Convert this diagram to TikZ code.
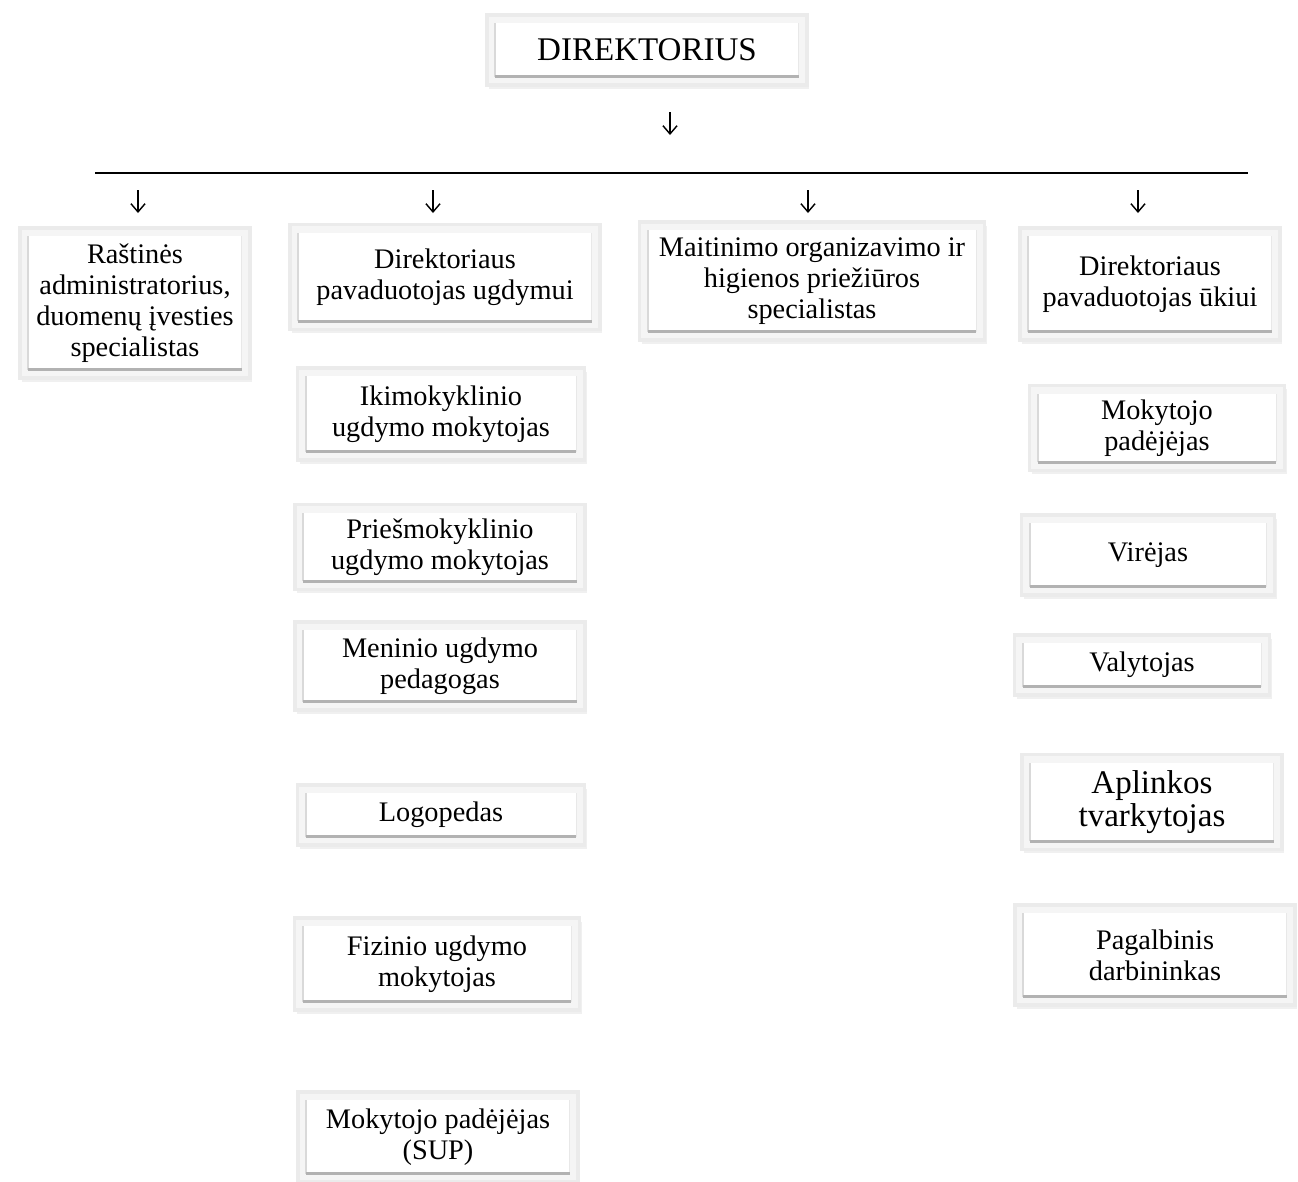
\documentclass[tikz,border=0pt]{standalone}
\usepackage{fontspec}
\setmainfont{Liberation Serif}
\usetikzlibrary{shadows, arrows.meta}
\newcommand{\bodyfont}{\fontsize{12}{13.1}\selectfont}
\newcommand{\bigfont}{\fontsize{14}{13.8}\selectfont}
\tikzstyle{post} = [rectangle, draw=gray!16, line width=1.5pt, fill=gray!8, align=center, font=\bodyfont, inner sep=2pt,
  drop shadow={opacity=0.12, shadow xshift=1pt, shadow yshift=-1.5pt},
  path picture={
    \fill[white] ([shift={(3.5pt,3.5pt)}]path picture bounding box.south west) rectangle ([shift={(-3.5pt,-3.5pt)}]path picture bounding box.north east);
    \draw[gray!30, line width=0.8pt] ([shift={(3.5pt,3.5pt)}]path picture bounding box.south west) -- ([shift={(3.5pt,-3.5pt)}]path picture bounding box.north west);
    \draw[gray!18, line width=0.6pt] ([shift={(-3.5pt,3.5pt)}]path picture bounding box.south east) -- ([shift={(-3.5pt,-3.5pt)}]path picture bounding box.north east);
    \draw[gray!60, line width=1.2pt] ([shift={(3.5pt,3.5pt)}]path picture bounding box.south west) -- ([shift={(-3.5pt,3.5pt)}]path picture bounding box.south east);
  }]
\tikzstyle{tick} = [line width=0.6pt, -{Straight Barb[length=3.5pt,width=6pt]}]
\tikzstyle{bar} = [line width=1.1pt]

\begin{document}
\begin{tikzpicture}[x=0.01489cm, y=-0.01489cm]
\useasboundingbox (0,0) rectangle (1298,1182);

% top
\node (dir) [post, font=\bigfont, minimum width=320*0.01489cm, minimum height=70*0.01489cm] at (647,50) {DIREKTORIUS};
\coordinate (dirtick) at (670,112);
\draw [tick] (dirtick) -- ++(0,23);

\coordinate (barL) at (95,173);
\coordinate (barR) at (1248,173);
\draw [bar] (barL) -- (barR);

% first row
\node (rast) [post, minimum width=230*0.01489cm, minimum height=150*0.01489cm] at (135,303) {Raštinės\\administratorius,\\duomenų įvesties\\specialistas};
\node (pavu) [post, minimum width=310*0.01489cm, minimum height=105*0.01489cm] at (445,277) {Direktoriaus\\pavaduotojas ugdymui};
\node (mait) [post, minimum width=345*0.01489cm, minimum height=118*0.01489cm] at (812,281) {Maitinimo organizavimo ir\\higienos priežiūros\\specialistas};
\node (pavuk) [post, minimum width=260*0.01489cm, minimum height=112*0.01489cm] at (1150,284) {Direktoriaus\\pavaduotojas ūkiui};

\coordinate (t1) at (138,190);
\coordinate (t2) at (433,190);
\coordinate (t3) at (808,190);
\coordinate (t4) at (1138,190);
\foreach \t in {t1,t2,t3,t4}
  \draw [tick] (\t) -- ++(0,23);

% ugdymo column
\node (ikim) [post, minimum width=287*0.01489cm, minimum height=92*0.01489cm] at (441,414) {Ikimokyklinio\\ugdymo mokytojas};
\node (pries) [post, minimum width=290*0.01489cm, minimum height=85*0.01489cm] at (440,547) {Priešmokyklinio\\ugdymo mokytojas};
\node (men) [post, minimum width=290*0.01489cm, minimum height=88*0.01489cm] at (440,666) {Meninio ugdymo\\pedagogas};
\node (logo) [post, minimum width=287*0.01489cm, minimum height=60*0.01489cm] at (441,815) {Logopedas};
\node (fiz) [post, minimum width=285*0.01489cm, minimum height=92*0.01489cm] at (437,964) {Fizinio ugdymo\\mokytojas};
\node (sup) [post, minimum width=280*0.01489cm, minimum height=90*0.01489cm] at (438,1137) {Mokytojo padėjėjas\\(SUP)};

% ukio column
\node (mok) [post, minimum width=255*0.01489cm, minimum height=85*0.01489cm] at (1157,428) {Mokytojo\\padėjėjas};
\node (vir) [post, minimum width=253*0.01489cm, minimum height=80*0.01489cm] at (1148,555) {Virėjas};
\node (val) [post, minimum width=255*0.01489cm, minimum height=60*0.01489cm] at (1142,665) {Valytojas};
\node (apl) [post, font=\bigfont, minimum width=260*0.01489cm, minimum height=95*0.01489cm] at (1152,802) {Aplinkos\\tvarkytojas};
\node (pag) [post, minimum width=280*0.01489cm, minimum height=100*0.01489cm] at (1155,955) {Pagalbinis\\darbininkas};
\end{tikzpicture}
\end{document}
